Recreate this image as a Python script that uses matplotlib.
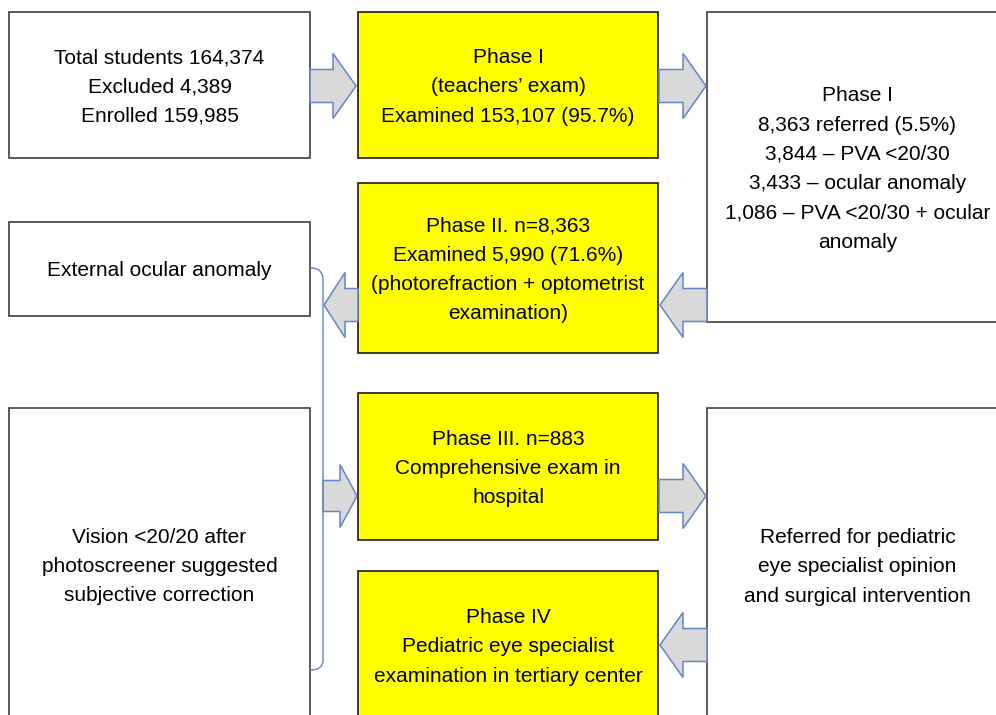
import matplotlib.pyplot as plt
from matplotlib.patches import Rectangle, Polygon, PathPatch
from matplotlib.path import Path

plt.rcParams['font.family'] = ['Liberation Sans', 'DejaVu Sans']

# box texts
total_box = ["Total students 164,374", "Excluded 4,389", "Enrolled 159,985"]
phase1_box = ["Phase I", "(teachers\u2019 exam)", "Examined 153,107 (95.7%)"]
referred_box = ["Phase I", "8,363 referred (5.5%)", "3,844 \u2013 PVA <20/30",
                "3,433 \u2013 ocular anomaly", "1,086 \u2013 PVA <20/30 + ocular", "anomaly"]
phase2_box = ["Phase II. n=8,363", "Examined 5,990 (71.6%)",
              "(photorefraction + optometrist", "examination)"]
external_box = ["External ocular anomaly"]
vision_box = ["Vision <20/20 after", "photoscreener suggested", "subjective correction"]
phase3_box = ["Phase III. n=883", "Comprehensive exam in", "hospital"]
pediatric_box = ["Referred for pediatric", "eye specialist opinion", "and surgical intervention"]
phase4_box = ["Phase IV", "Pediatric eye specialist", "examination in tertiary center"]

YELLOW = '#ffff00'
ARROW_FILL = '#d9d9d9'
ARROW_EDGE = '#6584c6'
LINE_H = 29.3

fig = plt.figure(figsize=(9.96, 7.15), dpi=100)
ax = fig.add_axes([0, 0, 1, 1])
ax.set_xlim(0, 996)
ax.set_ylim(715, 0)
ax.axis('off')

# columns (left x, right x)
COL_L = (9, 310)
COL_M = (358, 658)
COL_R = (707, 1008)


def box(col, top, bottom, lines, yellow=False):
    x0, x1 = col
    fc = YELLOW if yellow else 'white'
    ec = '#1a1a1a' if yellow else '#404040'
    ax.add_patch(Rectangle((x0, top), x1 - x0, bottom - top, fc=fc, ec=ec, lw=1.2, zorder=1))
    xc = (x0 + x1) / 2
    yc = (top + bottom) / 2 + 2
    n = len(lines)
    for i, t in enumerate(lines):
        y = yc + (i - (n - 1) / 2) * LINE_H
        ax.text(xc, y, t, ha='center', va='center', fontsize=15, color='black', zorder=3)


def block_arrow(x_from, x_to, yc, shaft=16.5, head=32.5, head_len=23):
    d = 1 if x_to > x_from else -1
    xb = x_to - d * head_len
    pts = [(x_from, yc - shaft), (xb, yc - shaft), (xb, yc - head), (x_to, yc),
           (xb, yc + head), (xb, yc + shaft), (x_from, yc + shaft)]
    ax.add_patch(Polygon(pts, closed=True, fc=ARROW_FILL, ec=ARROW_EDGE, lw=1.1, zorder=2))


box(COL_L, 12, 158, total_box)
box(COL_M, 12, 158, phase1_box, yellow=True)
box(COL_R, 12, 322, referred_box)
box(COL_M, 183, 353, phase2_box, yellow=True)
box(COL_L, 222, 316, external_box)
box(COL_L, 408, 721, vision_box)
box(COL_M, 393, 540, phase3_box, yellow=True)
box(COL_R, 408, 722, pediatric_box)
box(COL_M, 571, 719, phase4_box, yellow=True)

# arrows
block_arrow(310, 356, 86)
block_arrow(659, 706, 86)
block_arrow(707, 660, 305)
block_arrow(358, 324, 305, head_len=21)
block_arrow(323, 357, 496, shaft=15.5, head=31.5, head_len=17)
block_arrow(659, 706, 496)
block_arrow(707, 660, 645)

# bracket joining the left boxes
bx = 323
verts = [(311, 268), (bx, 268), (bx, 280), (bx, 660), (bx, 670), (311, 670)]
codes = [Path.MOVETO, Path.CURVE3, Path.CURVE3, Path.LINETO, Path.CURVE3, Path.CURVE3]
ax.add_patch(PathPatch(Path(verts, codes), fc='none', ec=ARROW_EDGE, lw=1.0, zorder=2))

fig.savefig('out.png', dpi=100)
